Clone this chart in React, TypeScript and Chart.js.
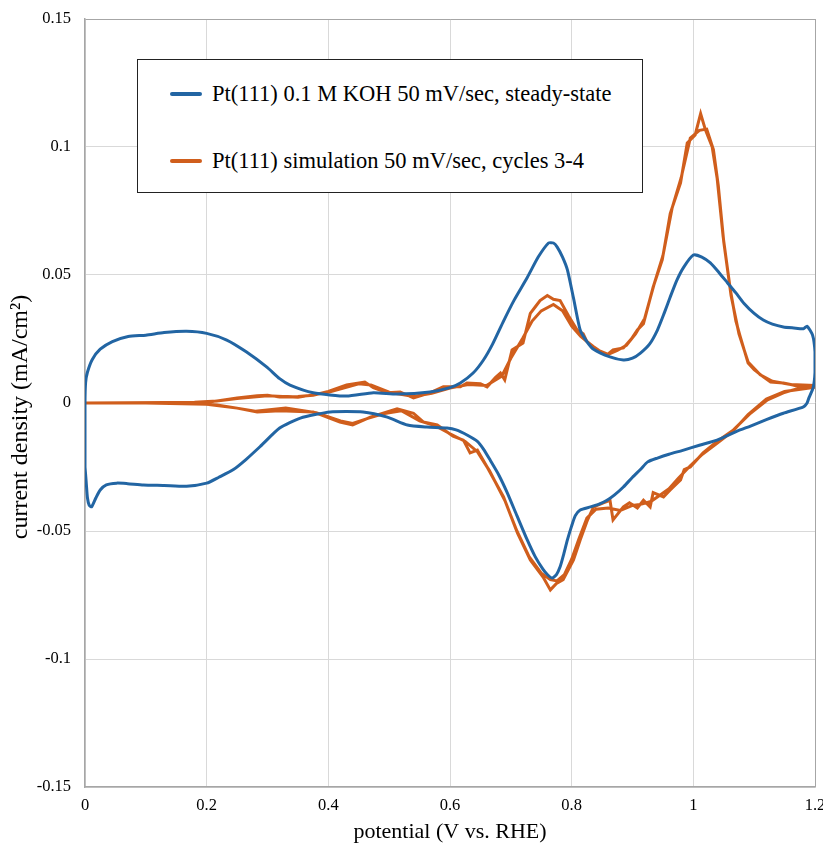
import React, { useEffect, useRef } from "react";
import { Chart, registerables } from "chart.js";

Chart.register(...registerables);

// ---- Data ----
const seriesLabels = [
  "Pt(111) 0.1 M KOH 50 mV/sec, steady-state",
  "Pt(111) simulation 50 mV/sec, cycles 3-4",
];
const xTicks = [0, 0.2, 0.4, 0.6, 0.8, 1, 1.2];
const xTickLabels = ["0", "0.2", "0.4", "0.6", "0.8", "1", "1.2"];
const yTicks = [-0.15, -0.1, -0.05, 0, 0.05, 0.1, 0.15];
const yTickLabels = ["-0.15", "-0.1", "-0.05", "0", "0.05", "0.1", "0.15"];
const xTitle = "potential (V vs. RHE)";
const yTitle = "current density (mA/cm²)";

// Experimental CV (potential V, current density mA/cm2)
const expPotential = [
  0.000, 0.000, 0.001, 0.004, 0.012, 0.025, 0.045, 0.071, 0.100, 0.130, 0.167, 0.200, 0.233, 0.265, 0.299, 0.320, 0.337, 0.375, 0.430, 0.474, 0.513, 0.567, 0.600, 0.617, 0.638, 0.655, 0.670, 0.688, 0.705, 0.727, 0.745, 0.762, 0.770, 0.776, 0.785, 0.793, 0.803, 0.814, 0.825, 0.836, 0.863, 0.885, 0.900, 0.913, 0.928, 0.941, 0.952, 0.962, 0.973, 0.984, 1.000, 1.014, 1.028, 1.042, 1.056, 1.070, 1.083, 1.100, 1.115, 1.130, 1.148, 1.165, 1.181, 1.187, 1.196, 1.200, 1.200, 1.197, 1.190, 1.187, 1.181, 1.148, 1.120, 1.094, 1.072, 1.039, 1.010, 0.984, 0.960, 0.941, 0.925, 0.913, 0.900, 0.885, 0.870, 0.858, 0.845, 0.831, 0.814, 0.806, 0.800, 0.793, 0.787, 0.781, 0.775, 0.768, 0.760, 0.753, 0.740, 0.727, 0.710, 0.694, 0.680, 0.666, 0.655, 0.645, 0.628, 0.610, 0.595, 0.562, 0.530, 0.497, 0.457, 0.403, 0.354, 0.320, 0.288, 0.265, 0.244, 0.220, 0.200, 0.167, 0.130, 0.096, 0.070, 0.052, 0.035, 0.025, 0.018, 0.011, 0.007, 0.004, 0.002, 0.000,
];
const expCurrent = [
  -0.025, 0.000, 0.008, 0.012, 0.017, 0.021, 0.024, 0.026, 0.0265, 0.0275, 0.028, 0.0272, 0.0246, 0.020, 0.014, 0.0095, 0.007, 0.004, 0.0027, 0.004, 0.0035, 0.0043, 0.006, 0.0078, 0.0117, 0.0168, 0.023, 0.032, 0.040, 0.049, 0.057, 0.0625, 0.0625, 0.061, 0.057, 0.052, 0.041, 0.0285, 0.024, 0.021, 0.018, 0.0168, 0.0175, 0.0195, 0.023, 0.0285, 0.035, 0.0414, 0.048, 0.053, 0.0578, 0.057, 0.0547, 0.051, 0.047, 0.043, 0.039, 0.035, 0.0324, 0.0308, 0.0297, 0.0293, 0.029, 0.030, 0.0265, 0.020, 0.012, 0.006, 0.002, 0.000, -0.0015, -0.004, -0.0065, -0.009, -0.011, -0.0145, -0.0165, -0.0184, -0.020, -0.0215, -0.023, -0.026, -0.029, -0.0328, -0.036, -0.038, -0.0395, -0.0406, -0.0418, -0.044, -0.048, -0.0535, -0.059, -0.064, -0.067, -0.0684, -0.067, -0.065, -0.060, -0.0535, -0.044, -0.035, -0.028, -0.0223, -0.018, -0.015, -0.0125, -0.0105, -0.0098, -0.0094, -0.0086, -0.0055, -0.0035, -0.0035, -0.0059, -0.0098, -0.017, -0.022, -0.026, -0.029, -0.0313, -0.0325, -0.0322, -0.032, -0.0315, -0.0313, -0.032, -0.034, -0.037, -0.0405, -0.040, -0.037, -0.031, -0.025,
];

// Simulation, cycle 3 then cycle 4
const simPotential = [
  0.000, 0.100, 0.180, 0.217, 0.250, 0.283, 0.300, 0.320, 0.350, 0.375, 0.400, 0.430, 0.460, 0.474, 0.497, 0.518, 0.540, 0.567, 0.589, 0.600, 0.617, 0.628, 0.650, 0.661, 0.675, 0.683, 0.690, 0.702, 0.720, 0.732, 0.740, 0.748, 0.760, 0.770, 0.781, 0.795, 0.809, 0.819, 0.825, 0.836, 0.848, 0.858, 0.868, 0.885, 0.898, 0.908, 0.918, 0.934, 0.949, 0.962, 0.979, 0.990, 1.003, 1.012, 1.020, 1.031, 1.039, 1.049, 1.061, 1.070, 1.077, 1.090, 1.100, 1.115, 1.127, 1.148, 1.164, 1.180, 1.200,
  1.200, 1.170, 1.148, 1.122, 1.094, 1.066, 1.039, 1.016, 0.995, 0.985, 0.979, 0.962, 0.951, 0.934, 0.929, 0.918, 0.908, 0.895, 0.885, 0.868, 0.863, 0.852, 0.836, 0.826, 0.814, 0.803, 0.786, 0.775, 0.765, 0.753, 0.732, 0.711, 0.688, 0.661, 0.645, 0.633, 0.622, 0.605, 0.579, 0.556, 0.540, 0.513, 0.490, 0.469, 0.440, 0.419, 0.375, 0.320, 0.283, 0.250, 0.217, 0.180, 0.100, 0.000,
  0.200, 0.250, 0.300, 0.350, 0.400, 0.450, 0.470, 0.500, 0.540, 0.570, 0.600, 0.630, 0.660, 0.685, 0.700, 0.720, 0.735, 0.750, 0.770, 0.785, 0.800, 0.815, 0.830, 0.845, 0.860, 0.875, 0.890, 0.905, 0.920, 0.935, 0.950, 0.965, 0.980, 0.995, 1.010, 1.022, 1.033, 1.041, 1.050, 1.062, 1.075, 1.090, 1.110, 1.130, 1.160, 1.200,
  1.200, 1.150, 1.120, 1.090, 1.065, 1.040, 1.015, 0.995, 0.975, 0.960, 0.945, 0.930, 0.915, 0.900, 0.880, 0.860, 0.840, 0.825, 0.812, 0.800, 0.788, 0.776, 0.765, 0.750, 0.730, 0.710, 0.690, 0.665, 0.645, 0.625, 0.600, 0.575, 0.550, 0.520, 0.490, 0.465, 0.440, 0.420, 0.380, 0.330, 0.280, 0.250, 0.200, 0.100, 0.000,
];
const simCurrent = [
  0.000, 0.000, 0.0003, 0.0008, 0.002, 0.0028, 0.003, 0.0023, 0.0025, 0.003, 0.0045, 0.007, 0.0082, 0.006, 0.004, 0.0043, 0.002, 0.004, 0.0063, 0.0063, 0.0063, 0.0078, 0.0075, 0.0063, 0.010, 0.0117, 0.009, 0.0207, 0.0234, 0.035, 0.0375, 0.040, 0.042, 0.0405, 0.040, 0.034, 0.0285, 0.027, 0.024, 0.022, 0.020, 0.0188, 0.0207, 0.0215, 0.025, 0.0285, 0.031, 0.0453, 0.056, 0.074, 0.086, 0.1016, 0.1047, 0.113, 0.1066, 0.100, 0.088, 0.065, 0.044, 0.032, 0.026, 0.0156, 0.013, 0.0102, 0.0082, 0.0078, 0.007, 0.006, 0.007,
  0.0063, 0.0055, 0.004, 0.0012, -0.004, -0.0105, -0.015, -0.0195, -0.025, -0.026, -0.030, -0.034, -0.0367, -0.035, -0.0406, -0.038, -0.041, -0.039, -0.0406, -0.0457, -0.038, -0.039, -0.0406, -0.0457, -0.0535, -0.0613, -0.069, -0.0705, -0.073, -0.068, -0.0613, -0.0508, -0.0367, -0.025, -0.0184, -0.0195, -0.0145, -0.013, -0.0086, -0.0074, -0.004, -0.0023, -0.004, -0.0055, -0.0086, -0.0074, -0.0035, -0.003, -0.0035, -0.002, -0.0008, -0.0002, 0.000, 0.000,
  0.0003, 0.0018, 0.0028, 0.0022, 0.0042, 0.0075, 0.007, 0.0042, 0.0025, 0.0038, 0.0058, 0.0072, 0.0068, 0.0105, 0.0175, 0.0255, 0.032, 0.036, 0.0385, 0.036, 0.030, 0.026, 0.023, 0.0205, 0.019, 0.0205, 0.0225, 0.027, 0.033, 0.046, 0.0575, 0.076, 0.088, 0.1035, 0.1065, 0.107, 0.099, 0.085, 0.063, 0.042, 0.027, 0.016, 0.011, 0.0085, 0.0072, 0.0068,
  0.0062, 0.0045, 0.0015, -0.0045, -0.011, -0.0155, -0.020, -0.0245, -0.0295, -0.0335, -0.036, -0.0385, -0.0395, -0.040, -0.042, -0.041, -0.0415, -0.045, -0.053, -0.061, -0.067, -0.0695, -0.069, -0.0665, -0.060, -0.050, -0.038, -0.0265, -0.019, -0.015, -0.012, -0.0088, -0.007, -0.003, -0.0042, -0.006, -0.008, -0.007, -0.0038, -0.002, -0.0032, -0.002, -0.0005, 0.000, 0.000,
];

const BLUE = "#2265a3";
const ORANGE = "#d05e1c";
const SERIF = "Liberation Serif, Times New Roman, serif";

function zip(xs: number[], ys: number[]) {
  return xs.map((x, i) => ({ x, y: ys[i] }));
}

// draws the rotated y-axis title slightly below the plot's vertical centre, as in the reference
const yTitlePlugin = {
  id: "yTitleText",
  afterDraw(chart: any) {
    const ctx = chart.ctx;
    const area = chart.chartArea;
    ctx.save();
    ctx.font = `24px ${SERIF}`;
    ctx.fillStyle = "#000";
    ctx.textAlign = "center";
    ctx.textBaseline = "middle";
    ctx.translate(21, (area.top + area.bottom) / 2 + 14);
    ctx.rotate(-Math.PI / 2);
    ctx.fillText(yTitle, 0, 0);
    ctx.restore();
  },
};

export default function App() {
  const canvasRef = useRef<HTMLCanvasElement | null>(null);

  useEffect(() => {
    const canvas = canvasRef.current;
    if (!canvas) return;
    Chart.defaults.font.family = SERIF;
    const chart = new Chart(canvas, {
      type: "line",
      data: {
        datasets: [
          {
            label: seriesLabels[0],
            data: zip(expPotential, expCurrent),
            borderColor: BLUE,
            backgroundColor: BLUE,
            borderWidth: 3,
            pointRadius: 0,
            tension: 0.2,
            fill: false,
          },
          {
            label: seriesLabels[1],
            data: zip(simPotential, simCurrent),
            borderColor: ORANGE,
            backgroundColor: ORANGE,
            borderWidth: 3,
            pointRadius: 0,
            tension: 0,
            fill: false,
          },
        ],
      },
      options: {
        animation: false,
        responsive: false,
        devicePixelRatio: 1,
        layout: { padding: { left: 0, right: 8, top: 19, bottom: 0 } },
        plugins: {
          legend: { display: false },
          tooltip: { enabled: false },
        },
        scales: {
          x: {
            type: "linear",
            min: 0,
            max: 1.2,
            afterBuildTicks: (scale: any) => {
              scale.ticks = xTicks.map((v) => ({ value: v }));
            },
            afterFit: (scale: any) => {
              scale.height = 56;
              scale.paddingLeft = 0;
              scale.paddingRight = 0;
            },
            ticks: {
              color: "#000",
              font: { family: SERIF, size: 16.5 },
              padding: 9,
              maxRotation: 0,
              autoSkip: false,
              callback: (v: any) => {
                const i = xTicks.findIndex((t) => Math.abs(t - Number(v)) < 1e-9);
                return i >= 0 ? xTickLabels[i] : "";
              },
            },
            grid: {
              drawTicks: false,
              color: (ctx: any) =>
                ctx.tick && Math.abs(ctx.tick.value - 1.2) < 1e-9 ? "#a6a6a6" : "#d9d9d9",
              lineWidth: 1,
            },
            border: { display: true, color: "#a6a6a6", width: 1.5 },
            title: {
              display: true,
              text: xTitle,
              color: "#000",
              font: { family: SERIF, size: 22 },
              padding: { top: 0, bottom: -2 },
            },
          },
          y: {
            type: "linear",
            min: -0.15,
            max: 0.15,
            afterBuildTicks: (scale: any) => {
              scale.ticks = yTicks.map((v) => ({ value: v }));
            },
            afterFit: (scale: any) => {
              scale.width = 85;
              scale.paddingTop = 0;
              scale.paddingBottom = 0;
            },
            ticks: {
              color: "#000",
              font: { family: SERIF, size: 16.5 },
              padding: 14,
              autoSkip: false,
              callback: (v: any) => {
                const i = yTicks.findIndex((t) => Math.abs(t - Number(v)) < 1e-9);
                return i >= 0 ? yTickLabels[i] : "";
              },
            },
            grid: {
              drawTicks: false,
              color: (ctx: any) =>
                ctx.tick && Math.abs(ctx.tick.value - 0.15) < 1e-9 ? "#a6a6a6" : "#d9d9d9",
              lineWidth: 1,
            },
            border: { display: true, color: "#a6a6a6", width: 1.5 },
            title: { display: false, text: yTitle },
          },
        },
      },
      plugins: [yTitlePlugin],
    });
    let alive = true;
    const redraw = () => {
      if (alive) chart.update();
    };
    if ((document as any).fonts) {
      (document as any).fonts.load('16px "Liberation Serif"').then(redraw, redraw);
      (document as any).fonts.ready.then(redraw, redraw);
    }
    return () => {
      alive = false;
      chart.destroy();
    };
  }, []);

  const legendLine = (color: string) => ({
    display: "inline-block",
    width: 32,
    height: 4,
    borderRadius: 2,
    background: color,
    marginRight: 10,
    verticalAlign: "middle",
  });

  return (
    <div style={{ position: "fixed", left: 0, top: 0, width: 823, height: 843, background: "#fff" }}>
      <canvas ref={canvasRef} width={823} height={843} style={{ display: "block" }} />
      <div
        style={{
          position: "absolute",
          left: 137,
          top: 59,
          width: 504,
          height: 132,
          border: "1.5px solid #222",
          background: "#fff",
          fontFamily: SERIF,
          fontSize: 22.5,
          color: "#000",
          boxSizing: "content-box",
        }}
      >
        <div style={{ position: "absolute", left: 32, top: 19, whiteSpace: "nowrap", lineHeight: "26px" }}>
          <span style={legendLine(BLUE)} />
          <span style={{ verticalAlign: "middle" }}>{seriesLabels[0]}</span>
        </div>
        <div style={{ position: "absolute", left: 32, top: 86, whiteSpace: "nowrap", lineHeight: "26px" }}>
          <span style={legendLine(ORANGE)} />
          <span style={{ verticalAlign: "middle" }}>{seriesLabels[1]}</span>
        </div>
      </div>
    </div>
  );
}
